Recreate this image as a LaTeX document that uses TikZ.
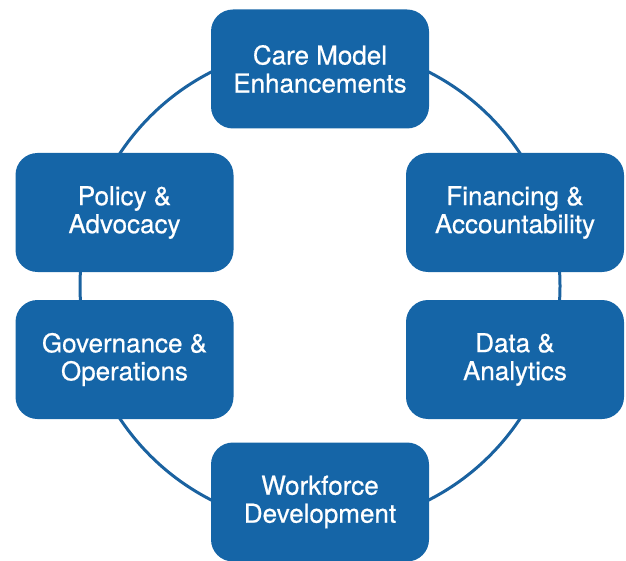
\documentclass[tikz,border=0pt]{standalone}
\usepackage{fontspec}
\setmainfont[FakeBold=0.6]{TeX Gyre Heros}
\usetikzlibrary{positioning}

\definecolor{ringblue}{RGB}{26,98,160}
\definecolor{boxblue}{RGB}{21,101,167}

\tikzset{
	areabox/.style={draw=none, fill=boxblue, rounded corners=22pt,
		minimum width=218pt, minimum height=119pt, align=center,
		text=white, font=\fontsize{26}{28}\selectfont},
	ring/.style={draw=ringblue, line width=3pt}
}

\begin{document}
\begin{tikzpicture}[x=1pt,y=-1pt]
		\useasboundingbox (0,0) rectangle (626,561);
		
		% ring behind the boxes
		\coordinate (centre) at (320,286);
		\draw[ring] (centre) circle[radius=240pt];
		
		\node[areabox] (care) at (320,69) {Care Model\\Enhancements};
		\node[areabox] (policy) at (124.5,212.5) {Policy \&\\Advocacy};
		\node[areabox] (finance) at (515,212.5) {Financing \&\\Accountability};
		\node[areabox] (governance) at (124.5,359.5) {Governance \&\\Operations};
		\node[areabox] (data) at (515,359.5) {Data \&\\Analytics};
		\node[areabox] (workforce) at (320,502) {Workforce\\Development};
	\end{tikzpicture}
\end{document}
